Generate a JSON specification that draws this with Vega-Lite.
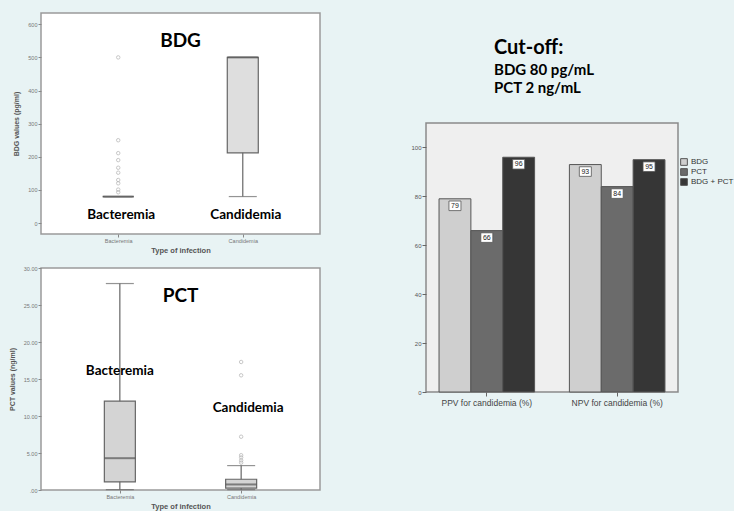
{
  "$schema": "https://vega.github.io/schema/vega-lite/v6.json",
  "background": "#e8f3f4",
  "padding": {"left": 7, "top": 12, "right": 0, "bottom": 0},
  "datasets": {
    "bdgBox": [
      {"type": "Bacteremia", "lo": 80, "q1": 80, "med": 80, "q3": 80, "hi": 80},
      {"type": "Candidemia", "lo": 80, "q1": 212, "med": 500, "q3": 500, "hi": 500}
    ],
    "bdgOut": [
      {"type": "Bacteremia", "value": 500},
      {"type": "Bacteremia", "value": 250},
      {"type": "Bacteremia", "value": 211},
      {"type": "Bacteremia", "value": 190},
      {"type": "Bacteremia", "value": 167},
      {"type": "Bacteremia", "value": 152},
      {"type": "Bacteremia", "value": 130},
      {"type": "Bacteremia", "value": 120},
      {"type": "Bacteremia", "value": 101},
      {"type": "Bacteremia", "value": 93}
    ],
    "bdgNote": [
      {"type": "Bacteremia", "label": "Bacteremia", "pos": 24},
      {"type": "Candidemia", "label": "Candidemia", "pos": 24}
    ],
    "pctBox": [
      {"type": "Bacteremia", "lo": 0.05, "q1": 1.1, "med": 4.3, "q3": 12.0, "hi": 27.9},
      {"type": "Candidemia", "lo": 0.05, "q1": 0.25, "med": 0.75, "q3": 1.45, "hi": 3.3}
    ],
    "pctOut": [
      {"type": "Candidemia", "value": 17.3},
      {"type": "Candidemia", "value": 15.5},
      {"type": "Candidemia", "value": 7.2},
      {"type": "Candidemia", "value": 4.7},
      {"type": "Candidemia", "value": 4.4},
      {"type": "Candidemia", "value": 4.0},
      {"type": "Candidemia", "value": 3.7}
    ],
    "pctNote": [
      {"type": "Bacteremia", "label": "Bacteremia", "pos": 16.1},
      {"type": "Candidemia", "label": "Candidemia", "pos": 11.1}
    ],
    "pv": [
      {"measure": "PPV for candidemia (%)", "series": "BDG", "value": 79},
      {"measure": "PPV for candidemia (%)", "series": "PCT", "value": 66},
      {"measure": "PPV for candidemia (%)", "series": "BDG + PCT", "value": 96},
      {"measure": "NPV for candidemia (%)", "series": "BDG", "value": 93},
      {"measure": "NPV for candidemia (%)", "series": "PCT", "value": 84},
      {"measure": "NPV for candidemia (%)", "series": "BDG + PCT", "value": 95}
    ]
  },
  "spacing": 89,
  "hconcat": [
    {
      "spacing": 10,
      "vconcat": [
        {
          "width": 279,
          "height": 221,
          "view": {"fill": "white", "stroke": "#9a9a9a", "strokeWidth": 1.5},
          "title": {"text": "BDG", "font": "Lato", "fontSize": 19, "fontWeight": "bold", "color": "#000000", "anchor": "middle", "frame": "group", "offset": -38},
          "encoding": {
            "x": {"field": "type", "type": "nominal", "sort": ["Bacteremia", "Candidemia"], "scale": {"type": "point", "padding": 0.62},
              "axis": {"title": "Type of infection", "labelAngle": 0, "labelFontSize": 5.5, "labelColor": "#777777", "tickSize": 3, "tickColor": "#888888", "domain": false, "labelPadding": 1, "titleFontSize": 7.5, "titleFontWeight": "bold", "titleColor": "#555555", "titlePadding": 3}}
          },
          "layer": [
            {
              "data": {"name": "bdgBox"},
              "mark": {"type": "rule", "color": "#666666", "strokeWidth": 1.2},
              "encoding": {
                "y": {"field": "lo", "type": "quantitative", "title": "BDG values (pg/ml)", "scale": {"domain": [-33, 634], "nice": false, "zero": false},
                  "axis": {"values": [0, 100, 200, 300, 400, 500, 600], "tickCount": 7, "grid": false, "domain": false, "tickSize": 3, "tickColor": "#888888", "labelFontSize": 5.5, "labelColor": "#777777", "labelPadding": 1, "labelOverlap": false, "titleFontSize": 7, "titleFontWeight": "bold", "titleColor": "#555555", "titlePadding": 8}},
                "y2": {"field": "hi"}
              }
            },
            {
              "data": {"name": "bdgBox"},
              "mark": {"type": "bar", "size": 31, "fill": "#dedede", "stroke": "#666666", "strokeWidth": 1.2},
              "encoding": {
                "y": {"field": "q1", "type": "quantitative", "title": "BDG values (pg/ml)", "axis": {"values": [0, 100, 200, 300, 400, 500, 600], "tickCount": 7}},
                "y2": {"field": "q3"}
              }
            },
            {
              "data": {"name": "bdgBox"},
              "mark": {"type": "tick", "size": 31, "thickness": 2, "color": "#555555"},
              "encoding": {"y": {"field": "med", "type": "quantitative", "title": "BDG values (pg/ml)", "axis": {"values": [0, 100, 200, 300, 400, 500, 600], "tickCount": 7}}}
            },
            {
              "data": {"name": "bdgBox"},
              "mark": {"type": "tick", "size": 28, "thickness": 1.2, "color": "#666666"},
              "encoding": {"y": {"field": "lo", "type": "quantitative", "title": "BDG values (pg/ml)", "axis": {"values": [0, 100, 200, 300, 400, 500, 600], "tickCount": 7}}}
            },
            {
              "data": {"name": "bdgBox"},
              "mark": {"type": "tick", "size": 28, "thickness": 1.2, "color": "#666666"},
              "encoding": {"y": {"field": "hi", "type": "quantitative", "title": "BDG values (pg/ml)", "axis": {"values": [0, 100, 200, 300, 400, 500, 600], "tickCount": 7}}}
            },
            {
              "data": {"name": "bdgOut"},
              "mark": {"type": "point", "size": 12, "filled": false, "stroke": "#b0b0b0", "strokeWidth": 1},
              "encoding": {"y": {"field": "value", "type": "quantitative", "title": "BDG values (pg/ml)", "axis": {"values": [0, 100, 200, 300, 400, 500, 600], "tickCount": 7}}}
            },
            {
              "data": {"name": "bdgNote"},
              "mark": {"type": "text", "font": "Lato", "fontSize": 13.5, "fontWeight": "bold", "color": "#000000", "dx": 3},
              "encoding": {
                "y": {"field": "pos", "type": "quantitative", "title": "BDG values (pg/ml)", "axis": {"values": [0, 100, 200, 300, 400, 500, 600], "tickCount": 7}},
                "text": {"field": "label"}
              }
            }
          ]
        },
        {
          "width": 279,
          "height": 222,
          "view": {"fill": "white", "stroke": "#9a9a9a", "strokeWidth": 1.5},
          "title": {"text": "PCT", "font": "Lato", "fontSize": 19, "fontWeight": "bold", "color": "#000000", "anchor": "middle", "frame": "group", "offset": -40},
          "encoding": {
            "x": {"field": "type", "type": "nominal", "sort": ["Bacteremia", "Candidemia"], "scale": {"type": "point", "padding": 0.65},
              "axis": {"title": "Type of infection", "labelAngle": 0, "labelFontSize": 5.5, "labelColor": "#777777", "tickSize": 3, "tickColor": "#888888", "domain": false, "labelPadding": 1, "titleFontSize": 7.5, "titleFontWeight": "bold", "titleColor": "#555555", "titlePadding": 3}}
          },
          "layer": [
            {
              "data": {"name": "pctBox"},
              "mark": {"type": "rule", "color": "#666666", "strokeWidth": 1.2},
              "encoding": {
                "y": {"field": "lo", "type": "quantitative", "title": "PCT values (ng/ml)", "scale": {"domain": [0, 30], "nice": false, "zero": false},
                  "axis": {"values": [0, 5, 10, 15, 20, 25, 30], "tickCount": 7, "labelExpr": "datum.value == 0 ? '.00' : format(datum.value, '.2f')", "grid": false, "domain": false, "tickSize": 3, "tickColor": "#888888", "labelFontSize": 5.5, "labelColor": "#777777", "labelPadding": 1, "labelOverlap": false, "titleFontSize": 7, "titleFontWeight": "bold", "titleColor": "#555555", "titlePadding": 8}},
                "y2": {"field": "hi"}
              }
            },
            {
              "data": {"name": "pctBox"},
              "mark": {"type": "bar", "size": 31, "fill": "#d4d4d4", "stroke": "#666666", "strokeWidth": 1.2},
              "encoding": {
                "y": {"field": "q1", "type": "quantitative", "title": "PCT values (ng/ml)", "axis": {"values": [0, 5, 10, 15, 20, 25, 30], "tickCount": 7}},
                "y2": {"field": "q3"}
              }
            },
            {
              "data": {"name": "pctBox"},
              "mark": {"type": "tick", "size": 31, "thickness": 2, "color": "#555555"},
              "encoding": {"y": {"field": "med", "type": "quantitative", "title": "PCT values (ng/ml)", "axis": {"values": [0, 5, 10, 15, 20, 25, 30], "tickCount": 7}}}
            },
            {
              "data": {"name": "pctBox"},
              "mark": {"type": "tick", "size": 28, "thickness": 1.2, "color": "#666666"},
              "encoding": {"y": {"field": "lo", "type": "quantitative", "title": "PCT values (ng/ml)", "axis": {"values": [0, 5, 10, 15, 20, 25, 30], "tickCount": 7}}}
            },
            {
              "data": {"name": "pctBox"},
              "mark": {"type": "tick", "size": 28, "thickness": 1.2, "color": "#666666"},
              "encoding": {"y": {"field": "hi", "type": "quantitative", "title": "PCT values (ng/ml)", "axis": {"values": [0, 5, 10, 15, 20, 25, 30], "tickCount": 7}}}
            },
            {
              "data": {"name": "pctOut"},
              "mark": {"type": "point", "size": 12, "filled": false, "stroke": "#b0b0b0", "strokeWidth": 1},
              "encoding": {"y": {"field": "value", "type": "quantitative", "title": "PCT values (ng/ml)", "axis": {"values": [0, 5, 10, 15, 20, 25, 30], "tickCount": 7}}}
            },
            {
              "data": {"name": "pctNote"},
              "transform": [{"filter": "datum.type == 'Bacteremia'"}],
              "mark": {"type": "text", "font": "Lato", "fontSize": 13.5, "fontWeight": "bold", "color": "#000000"},
              "encoding": {
                "y": {"field": "pos", "type": "quantitative", "title": "PCT values (ng/ml)", "axis": {"values": [0, 5, 10, 15, 20, 25, 30], "tickCount": 7}},
                "text": {"field": "label"}
              }
            },
            {
              "data": {"name": "pctNote"},
              "transform": [{"filter": "datum.type == 'Candidemia'"}],
              "mark": {"type": "text", "font": "Lato", "fontSize": 13.5, "fontWeight": "bold", "color": "#000000", "dx": 7},
              "encoding": {
                "y": {"field": "pos", "type": "quantitative", "title": "PCT values (ng/ml)", "axis": {"values": [0, 5, 10, 15, 20, 25, 30], "tickCount": 7}},
                "text": {"field": "label"}
              }
            }
          ]
        }
      ]
    },
    {
      "spacing": 0,
      "vconcat": [
        {
          "width": 252,
          "height": 109,
          "view": {"fill": null, "stroke": null},
          "data": {"values": []},
          "mark": {"type": "text", "text": ""},
          "title": {
            "text": "Cut-off:",
            "subtitle": ["BDG 80 pg/mL", "PCT 2 ng/mL"],
            "anchor": "start", "frame": "group", "dx": 68,
            "font": "Lato", "fontSize": 20, "fontWeight": "bold", "color": "#000000",
            "subtitleFont": "Lato", "subtitleFontSize": 15, "subtitleFontWeight": "bold", "subtitleColor": "#000000",
            "subtitleLineHeight": 18, "subtitlePadding": 5, "offset": -83
          }
        },
        {
          "width": 252,
          "height": 269,
          "data": {"name": "pv"},
          "view": {"fill": "#efefef", "stroke": "#8a8a8a", "strokeWidth": 1.5},
          "encoding": {
            "x": {"field": "measure", "type": "nominal", "sort": ["PPV for candidemia (%)", "NPV for candidemia (%)"],
              "scale": {"paddingInner": 0.267, "paddingOuter": 0.1},
              "axis": {"title": null, "labelAngle": 0, "labelFontSize": 8.5, "labelColor": "#444444", "tickSize": 4, "tickColor": "#666666", "domain": false, "labelPadding": 2}},
            "xOffset": {"field": "series", "type": "nominal", "sort": ["BDG", "PCT", "BDG + PCT"]}
          },
          "layer": [
            {
              "mark": {"type": "bar", "stroke": "#555555", "strokeWidth": 1},
              "encoding": {
                "y": {"field": "value", "type": "quantitative", "scale": {"domain": [0, 110], "nice": false},
                  "axis": {"values": [0, 20, 40, 60, 80, 100], "tickCount": 6, "title": null, "grid": false, "domain": false, "tickSize": 4, "tickColor": "#666666", "labelFontSize": 6, "labelColor": "#555555", "labelPadding": 1}},
                "color": {"field": "series", "type": "nominal", "sort": ["BDG", "PCT", "BDG + PCT"],
                  "scale": {"domain": ["BDG", "PCT", "BDG + PCT"], "range": ["#cfcfcf", "#6b6b6b", "#363636"]},
                  "legend": {"title": null, "orient": "none", "legendX": 639, "legendY": 145, "symbolType": "square", "symbolSize": 45, "symbolStrokeColor": "#555555", "symbolStrokeWidth": 1, "labelFontSize": 8, "labelColor": "#333333", "rowPadding": -4, "labelOffset": 3}}
              }
            },
            {
              "mark": {"type": "point", "shape": "M-1,-0.8L1,-0.8L1,0.8L-1,0.8Z", "size": 144, "filled": true, "fill": "white", "stroke": "#555555", "strokeWidth": 0.8, "opacity": 1, "yOffset": 7},
              "encoding": {"y": {"field": "value", "type": "quantitative"}}
            },
            {
              "mark": {"type": "text", "fontSize": 7, "color": "#222222", "baseline": "middle", "yOffset": 7},
              "encoding": {
                "y": {"field": "value", "type": "quantitative"},
                "text": {"field": "value", "type": "quantitative"}
              }
            }
          ]
        }
      ]
    }
  ],
  "config": {
    "font": "Liberation Sans",
    "axis": {"labelFont": "Liberation Sans", "titleFont": "Liberation Sans"},
    "legend": {"labelFont": "Liberation Sans"}
  }
}
